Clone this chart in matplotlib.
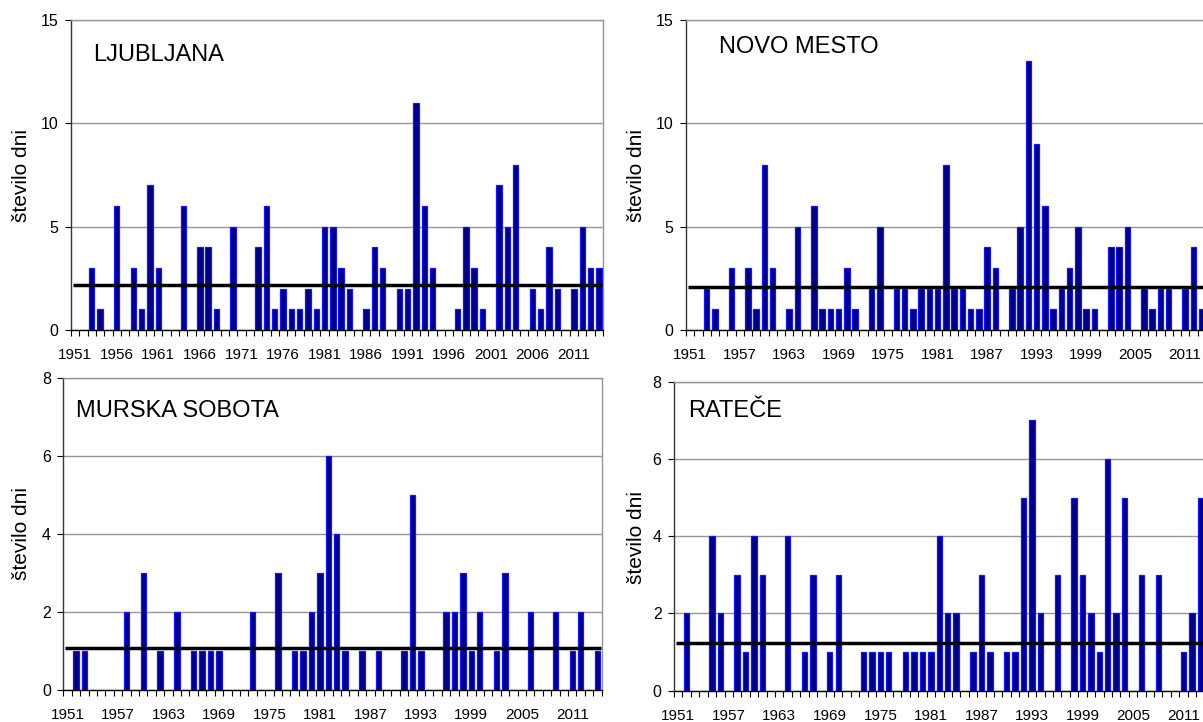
import numpy as np
import matplotlib
matplotlib.use("Agg")
import matplotlib.pyplot as plt

plt.rcParams['font.family'] = ['Liberation Sans', 'DejaVu Sans']

# ---------------- data ----------------
years = list(range(1951, 2015))

ljubljana = [0, 0, 3, 1, 0, 6, 0, 3, 1, 7,
             3, 0, 0, 6, 0, 4, 4, 1, 0, 5,
             0, 0, 4, 6, 1, 2, 1, 1, 2, 1,
             5, 5, 3, 2, 0, 1, 4, 3, 0, 2,
             2, 11, 6, 3, 0, 0, 1, 5, 3, 1,
             0, 7, 5, 8, 0, 2, 1, 4, 2, 0,
             2, 5, 3, 3]

novo_mesto = [0, 0, 2, 1, 0, 3, 0, 3, 1, 8,
              3, 0, 1, 5, 0, 6, 1, 1, 1, 3,
              1, 0, 2, 5, 0, 2, 2, 1, 2, 2,
              2, 8, 2, 2, 1, 1, 4, 3, 0, 2,
              5, 13, 9, 6, 1, 2, 3, 5, 1, 1,
              0, 4, 4, 5, 0, 2, 1, 2, 2, 0,
              2, 4, 1, 2]

murska_sobota = [0, 1, 1, 0, 0, 0, 0, 2, 0, 3,
                 0, 1, 0, 2, 0, 1, 1, 1, 1, 0,
                 0, 0, 2, 0, 0, 3, 0, 1, 1, 2,
                 3, 6, 4, 1, 0, 1, 0, 1, 0, 0,
                 1, 5, 1, 0, 0, 2, 2, 3, 1, 2,
                 0, 1, 3, 0, 0, 2, 0, 0, 2, 0,
                 1, 2, 0, 1]

ratece = [0, 2, 0, 0, 4, 2, 0, 3, 1, 4,
          3, 0, 0, 4, 0, 1, 3, 0, 1, 3,
          0, 0, 1, 1, 1, 1, 0, 1, 1, 1,
          1, 4, 2, 2, 0, 1, 3, 1, 0, 1,
          1, 5, 7, 2, 0, 3, 0, 5, 3, 2,
          1, 6, 2, 5, 0, 3, 0, 3, 0, 0,
          1, 2, 5, 2]

stations = ["LJUBLJANA", "NOVO MESTO", "MURSKA SOBOTA", "RATEČE"]
ref_period = (1961, 1990)

labels_5 = [str(y) for y in range(1951, 2015, 5)]
labels_6 = [str(y) for y in range(1951, 2015, 6)]
yticks_top = [0, 5, 10, 15]
yticks_bottom = [0, 2, 4, 6, 8]
ylabel = "število dni"

# ---------------- layout (pixels) ----------------
W, H = 1203, 722
fig = plt.figure(figsize=(W / 100, H / 100), dpi=100)


def add_axes(l, r, t, b):
    return fig.add_axes([l / W, (H - b) / H, (r - l) / W, (b - t) / H])


panels = [
    (ljubljana, stations[0], (71, 603, 20, 330), yticks_top, labels_5, 5, (93, 61)),
    (novo_mesto, stations[1], (686, 1214, 20, 330), yticks_top, labels_6, 6, (719, 53)),
    (murska_sobota, stations[2], (63.3, 601.7, 378.3, 690), yticks_bottom, labels_6, 6, (76, 417)),
    (ratece, stations[3], (674, 1213, 381.7, 690.7), yticks_bottom, labels_6, 6, (688, 417)),
]

x = np.arange(len(years))
for vals, name, (l, r, t, b), yt, xl, step, (tx, ty) in panels:
    ax = add_axes(l, r, t, b)
    v = np.array(vals, dtype=float)
    m = v > 0
    ax.bar(x[m], v[m], width=0.64, color='#000080', edgecolor='#1414ff',
           linewidth=0.9, zorder=3)
    yrs = np.array(years)
    ref = v[(yrs >= ref_period[0]) & (yrs <= ref_period[1])].mean()
    ax.plot([-0.28, len(years) - 0.6], [ref, ref], color='black', lw=2.5,
            solid_capstyle='butt', zorder=4)

    ax.set_xlim(-0.5, len(years) - 0.5)
    ax.set_ylim(yt[0], yt[-1])
    ax.set_yticks(yt)
    ax.set_yticklabels([str(v_) for v_ in yt])
    ax.yaxis.grid(True, color='#969696', lw=1.0, zorder=0)
    ax.set_axisbelow(True)

    ax.set_xticks(np.arange(0, len(years), step))
    ax.set_xticklabels(xl)
    ax.set_xticks(np.arange(-0.5, len(years) + 0.5, 1), minor=True)
    ax.tick_params(axis='x', which='major', length=0, pad=13, labelsize=11)
    ax.tick_params(axis='x', which='minor', length=4, width=0.8, direction='out',
                   color='black')
    ax.tick_params(axis='y', which='major', length=4.5, width=0.8, pad=4.5,
                   labelsize=11.5, color='black')

    for s in ['top', 'right']:
        ax.spines[s].set_color('#969696')
        ax.spines[s].set_linewidth(1.0)
    ax.spines['left'].set_color('#333333')
    ax.spines['left'].set_linewidth(1.0)
    ax.spines['bottom'].set_color('black')
    ax.spines['bottom'].set_linewidth(1.0)

    fig.text(tx / W, (H - ty) / H, name, fontsize=17, ha='left', va='baseline')

# y axis titles
for xc, yc in [(22, 175), (636, 175), (22, 534), (636, 537)]:
    fig.text(xc / W, (H - yc) / H, ylabel, rotation=90, fontsize=15,
             ha='center', va='center')

fig.savefig("out.png", dpi=100)
